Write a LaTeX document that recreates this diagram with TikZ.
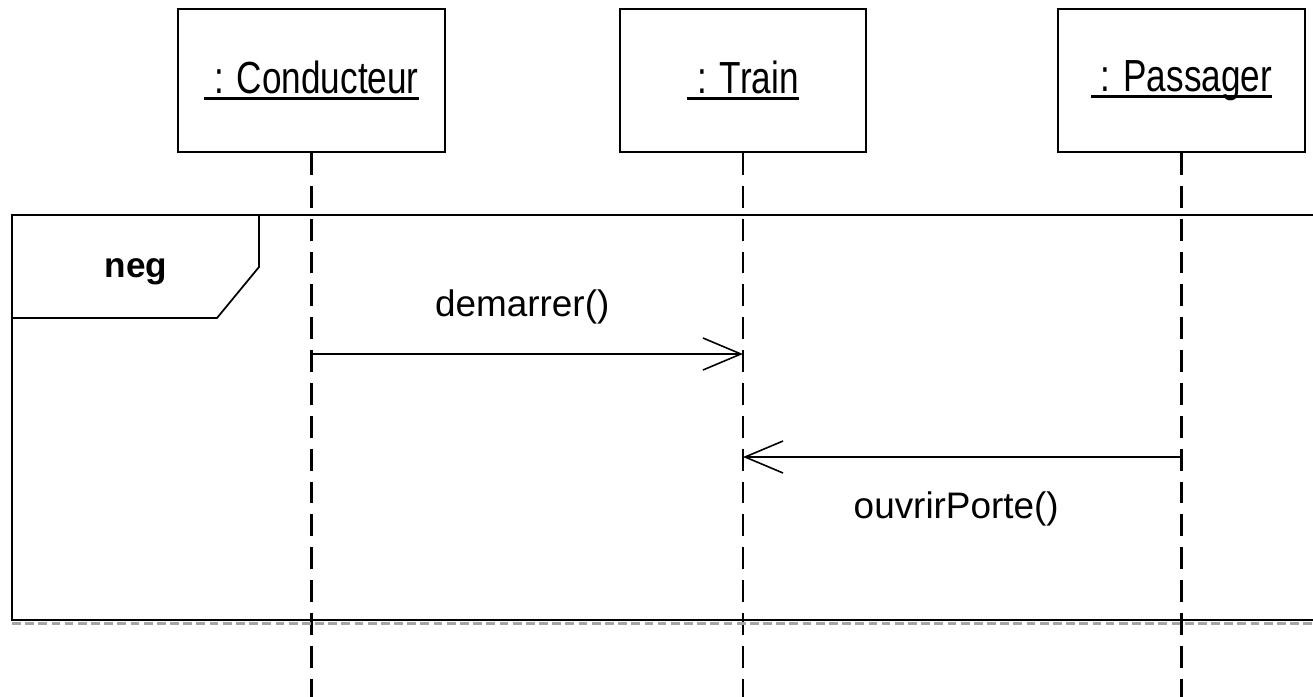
\documentclass[tikz,border=0pt]{standalone}
\usepackage{fontspec}
\setmainfont{Liberation Sans}
\usetikzlibrary{arrows.meta}
\newcommand{\objname}[1]{\scalebox{1}[1.28]{\setbox0=\hbox{\ : #1}\rlap{\rule[-2.9pt]{\wd0}{1.3pt}}\box0}}

\begin{document}
\begin{tikzpicture}[x=0.02cm, y=-0.02cm,
    every node/.style={font=\fontsize{21}{25}\selectfont},
    head/.style={draw, line width=1.1pt, minimum height=2.86cm, inner sep=0pt, font=\fontsize{20}{24}\selectfont},
    lifeline/.style={line width=1.2pt, dash pattern=on 12.5pt off 6.2pt},
    msg/.style={line width=0.9pt, -{Straight Barb[length=0.76cm, width=0.64cm]}}]
    \useasboundingbox (0,0) rectangle (1313,697);
    \clip (0,0) rectangle (1313,697);

    \node (cond) [head, minimum width=5.34cm] at (311.5,80.5) {\objname{Conducteur}};
    \node (train) [head, minimum width=4.92cm] at (743,80.5) {\objname{Train}};
    \node (pass) [head, minimum width=4.94cm] at (1181.5,80.5) {\objname{Passager}};

    \coordinate (bottom) at (0,700);
    \draw[lifeline] (cond.south) -- (cond.south |- bottom);
    \draw[lifeline] (train.south) -- (train.south |- bottom);
    \draw[lifeline] (pass.south) -- (pass.south |- bottom);

    \draw[line width=1pt] (1320,215) -- (12,215) -- (12,620) -- (1320,620);
    \draw[gray!70, line width=1.2pt, dash pattern=on 5pt off 2.5pt] (12,623.5) -- (1320,623.5);
    \draw[line width=1pt] (259,215) -- (259,267) -- (217,318) -- (12,318);
    \node (neg) [font=\fontsize{20}{24}\selectfont\bfseries] at (136,272) {neg};

    \coordinate (cond-m1) at (cond.south |- 0,354);
    \coordinate (train-m1) at (train.south |- 0,354);
    \coordinate (pass-m2) at (pass.south |- 0,457);
    \coordinate (train-m2) at (train.south |- 0,457);

    \draw[msg] (cond-m1) -- (train-m1) node [midway, above=13pt, xshift=-0.1cm] {demarrer()};
    \draw[msg] (pass-m2) -- (train-m2) node [midway, below=16pt, xshift=-0.12cm] {ouvrirPorte()};
\end{tikzpicture}
\end{document}
